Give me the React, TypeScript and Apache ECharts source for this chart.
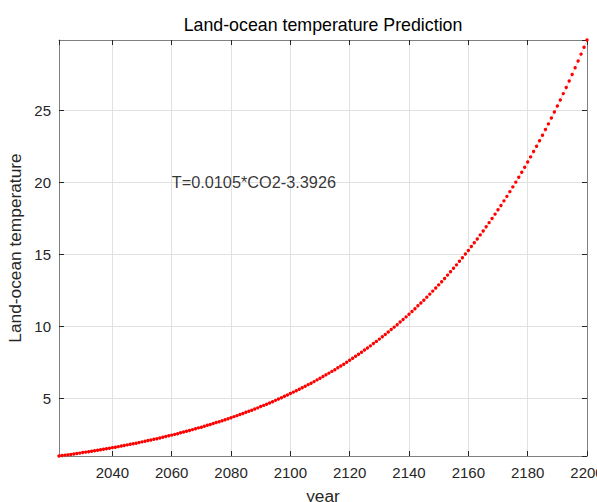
import { useEffect, useRef } from "react";
import * as echarts from "echarts";

// Predicted land-ocean temperature, one value per year from 2022 to 2200
const startYear = 2022;
const temperature = [
  1.0, 1.03, 1.06, 1.08, 1.11, 1.14, 1.17, 1.2, 1.24, 1.27,
  1.3, 1.33, 1.37, 1.4, 1.43, 1.47, 1.5, 1.54, 1.58, 1.61,
  1.65, 1.69, 1.73, 1.77, 1.81, 1.85, 1.89, 1.93, 1.98, 2.02,
  2.07, 2.11, 2.16, 2.2, 2.25, 2.3, 2.35, 2.4, 2.45, 2.5,
  2.55, 2.61, 2.66, 2.72, 2.77, 2.83, 2.89, 2.95, 3.0, 3.07,
  3.13, 3.19, 3.25, 3.32, 3.38, 3.45, 3.52, 3.59, 3.66, 3.73,
  3.8, 3.88, 3.95, 4.03, 4.1, 4.18, 4.26, 4.34, 4.43, 4.51,
  4.59, 4.68, 4.77, 4.86, 4.95, 5.04, 5.14, 5.23, 5.33, 5.43,
  5.53, 5.63, 5.73, 5.84, 5.95, 6.05, 6.16, 6.28, 6.39, 6.51,
  6.63, 6.75, 6.87, 6.99, 7.12, 7.24, 7.37, 7.51, 7.64, 7.78,
  7.92, 8.06, 8.2, 8.35, 8.49, 8.64, 8.8, 8.95, 9.11, 9.27,
  9.43, 9.6, 9.77, 9.94, 10.11, 10.29, 10.47, 10.65, 10.84, 11.03,
  11.22, 11.42, 11.61, 11.81, 12.02, 12.23, 12.44, 12.65, 12.87, 13.09,
  13.32, 13.55, 13.78, 14.02, 14.26, 14.51, 14.75, 15.01, 15.26, 15.53,
  15.79, 16.06, 16.34, 16.61, 16.9, 17.19, 17.48, 17.78, 18.08, 18.38,
  18.7, 19.01, 19.34, 19.67, 20.0, 20.34, 20.68, 21.03, 21.39, 21.75,
  22.12, 22.49, 22.87, 23.25, 23.65, 24.04, 24.45, 24.86, 25.28, 25.7,
  26.14, 26.57, 27.02, 27.47, 27.94, 28.4, 28.88, 29.36, 29.86,
];
const years = temperature.map((_, i) => startYear + i);

// Fitted relation shown on the plot, anchored at (2060, 20)
const formulaText = "T=0.0105*CO2-3.3926";
const formulaAt = [2060, 20];

const FONT = "'Liberation Sans', Arial, Helvetica, sans-serif";
const TEXT = "#262626";
const AXIS = "#808080";
const GRIDLINE = "#e1e1e1";

export default function App() {
  const ref = useRef<HTMLDivElement>(null);

  useEffect(() => {
    if (!ref.current) return;
    const chart = echarts.init(ref.current, undefined, { renderer: "svg" });

    const xMin = years[0];
    const xMax = years[years.length - 1];
    const yMin = Math.min(...temperature);
    const yMax = Math.max(...temperature);

    const tick = { show: true, inside: true, length: 5, lineStyle: { color: TEXT, width: 1 } };
    const line = { show: true, lineStyle: { color: AXIS, width: 1 } };
    const label = {
      color: TEXT,
      fontSize: 15,
      fontFamily: FONT,
      formatter: (v: number) => String(v),
    };

    chart.setOption({
      animation: false,
      backgroundColor: "#ffffff",
      title: {
        text: "Land-ocean temperature Prediction",
        left: 323,
        top: 16,
        textAlign: "center",
        padding: 0,
        textStyle: { color: "#000", fontSize: 17.8, fontWeight: "normal", fontFamily: FONT },
      },
      grid: {
        left: 59,
        right: 10,
        top: 40,
        bottom: 46,
        containLabel: false,
        outerBoundsMode: "none",
      },
      xAxis: [
        {
          type: "value",
          min: xMin,
          max: xMax,
          splitNumber: 9,
          position: "bottom",
          name: "year",
          nameLocation: "middle",
          nameGap: 31,
          nameTextStyle: { color: TEXT, fontSize: 17.3, fontFamily: FONT },
          axisLine: line,
          axisTick: tick,
          axisLabel: { ...label, margin: 9, showMinLabel: false },
          splitLine: { show: true, lineStyle: { color: GRIDLINE, width: 1 } },
        },
        {
          type: "value",
          min: xMin,
          max: xMax,
          splitNumber: 9,
          position: "top",
          axisLine: line,
          axisTick: tick,
          axisLabel: { show: false },
          splitLine: { show: false },
        },
      ],
      yAxis: [
        {
          type: "value",
          min: yMin,
          max: yMax,
          splitNumber: 5,
          position: "left",
          name: "Land-ocean temperature",
          nameLocation: "middle",
          nameGap: 30,
          nameTextStyle: { color: TEXT, fontSize: 17.3, fontFamily: FONT },
          axisLine: line,
          axisTick: tick,
          axisLabel: { ...label, margin: 8, showMinLabel: false, showMaxLabel: false },
          splitLine: { show: true, lineStyle: { color: GRIDLINE, width: 1 } },
        },
        {
          type: "value",
          min: yMin,
          max: yMax,
          splitNumber: 5,
          position: "right",
          axisLine: line,
          axisTick: tick,
          axisLabel: { show: false },
          splitLine: { show: false },
        },
      ],
      series: [
        {
          type: "line",
          xAxisIndex: 0,
          yAxisIndex: 0,
          data: years.map((y, i) => [y, temperature[i]]),
          showSymbol: true,
          symbol: "circle",
          symbolSize: 3.4,
          itemStyle: { color: "#ff0000" },
          lineStyle: { color: "#ff0000", width: 0.6, type: "dotted", opacity: 0.6 },
          clip: false,
        },
        {
          type: "scatter",
          xAxisIndex: 0,
          yAxisIndex: 0,
          data: [formulaAt],
          symbolSize: 0,
          silent: true,
          label: {
            show: true,
            position: "right",
            distance: 0,
            formatter: formulaText,
            color: "#000",
            fontSize: 16.3,
            fontFamily: FONT,
          },
        },
      ],
    });

    return () => chart.dispose();
  }, []);

  return (
    <div
      ref={ref}
      style={{ position: "fixed", left: 0, top: 0, width: 597, height: 502 }}
    />
  );
}
